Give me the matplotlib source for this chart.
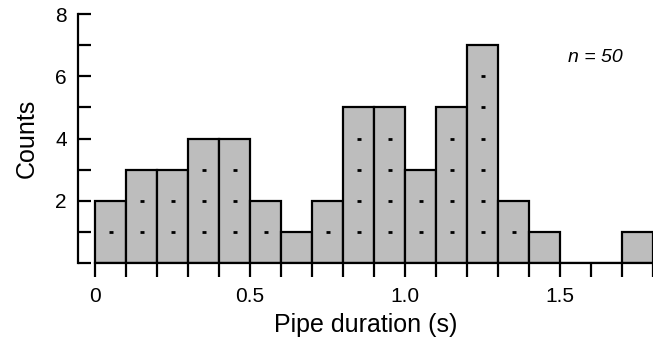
import numpy as np
import matplotlib.pyplot as plt

plt.rcParams['font.family'] = ['Liberation Sans', 'DejaVu Sans']

bin_left = np.round(np.arange(0, 1.8, 0.1), 2)
counts = [2, 3, 3, 4, 4, 2, 1, 2, 5, 5, 3, 5, 7, 2, 1, 0, 0, 1]
x_ticklabels = ["0", "0.5", "1.0", "1.5"]
x_tickpos = [0, 0.5, 1.0, 1.5]

fig = plt.figure(figsize=(6.53, 3.49), dpi=100)
ax = fig.add_axes([78 / 653, 86 / 349, 575 / 653, 249 / 349])

ax.bar(bin_left, counts, width=0.1, align="edge", color="#bdbdbd",
       edgecolor="black", linewidth=1.6, zorder=2)

# small marks at each count level inside bars
for x0, c in zip(bin_left, counts):
    for k in range(1, c):
        ax.plot(x0 + 0.05, k, marker="_", color="black", markersize=3.2,
                markeredgewidth=2.0, zorder=3)

ax.set_xlim(-0.055, 1.79)
ax.set_ylim(0, 8)

for s in ["top", "right"]:
    ax.spines[s].set_visible(False)
ax.spines["left"].set_linewidth(1.6)
ax.spines["bottom"].set_linewidth(1.6)
ax.spines["bottom"].set_bounds(0, 1.8)

ax.set_yticks(range(0, 9))
ax.set_yticklabels(["", "", "2", "", "4", "", "6", "", "8"])
ax.tick_params(axis="y", direction="in", length=9, width=1.6, labelsize=15, pad=8)

ax.set_xticks(np.round(np.arange(0, 1.81, 0.1), 2))
ax.set_xticklabels([x_ticklabels[x_tickpos.index(v)] if v in x_tickpos else ""
                    for v in np.round(np.arange(0, 1.81, 0.1), 2)])
ax.tick_params(axis="x", direction="out", length=10, width=1.6, labelsize=15, pad=7)

ax.set_ylabel("Counts", fontsize=18, labelpad=12)
ax.set_xlabel("Pipe duration (s)", fontsize=18, labelpad=5)

ax.text(1.615, 6.6, "n = 50", fontsize=14, style="italic", ha="center", va="center")

fig.savefig("out.png", dpi=100)
